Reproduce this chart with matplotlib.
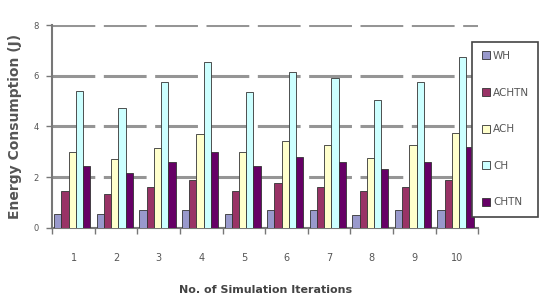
import matplotlib
matplotlib.use("Agg")
import matplotlib.pyplot as plt
import numpy as np

iterations = ["1", "2", "3", "4", "5", "6", "7", "8", "9", "10"]
series_names = ["WH", "ACHTN", "ACH", "CH", "CHTN"]
wh    = [0.55, 0.55, 0.68, 0.68, 0.55, 0.68, 0.68, 0.52, 0.68, 0.68]
achtn = [1.45, 1.35, 1.60, 1.88, 1.45, 1.75, 1.62, 1.45, 1.62, 1.88]
ach   = [3.00, 2.72, 3.15, 3.70, 3.00, 3.42, 3.25, 2.75, 3.25, 3.72]
ch    = [5.40, 4.72, 5.75, 6.55, 5.35, 6.15, 5.90, 5.05, 5.75, 6.75]
chtn  = [2.45, 2.15, 2.60, 3.00, 2.45, 2.78, 2.60, 2.32, 2.60, 3.18]
values = [wh, achtn, ach, ch, chtn]
colors = ["#9999cc", "#993366", "#ffffcc", "#ccffff", "#660066"]
yticks = [0, 2, 4, 6, 8]

fig = plt.figure(figsize=(5.39, 3.02), dpi=100)
ax = fig.add_axes([0.097, 0.246, 0.79, 0.671])

x = np.arange(len(iterations))
w = 0.17
for i, (name, vals, c) in enumerate(zip(series_names, values, colors)):
    ax.bar(x + (i - 2) * w - 0.03, vals, width=w, color=c, edgecolor="#333333",
           linewidth=0.6, label=name, zorder=3)

ax.set_xlim(-0.5, 9.5)
ax.set_ylim(0, 8)
ax.set_yticks(yticks)
ax.set_yticklabels([str(t) for t in yticks], fontsize=6, color="#555555")
ax.set_xticks(x)
ax.set_xticklabels(iterations, fontsize=7, color="#555555")
ax.tick_params(axis="x", length=0, pad=18)
ax.set_xticks(np.arange(-0.5, 10, 1), minor=True)
ax.tick_params(axis="x", which="minor", length=4, color="#777777", width=1)
ax.tick_params(axis="y", length=4, color="#777777", width=1, pad=6)

ax.yaxis.grid(True, color="#959595", linewidth=2.2, linestyle=(0, (14, 2.8)), zorder=0)
ax.set_axisbelow(True)
for s in ["top", "right"]:
    ax.spines[s].set_visible(False)
for s in ["left", "bottom"]:
    ax.spines[s].set_color("#777777")
    ax.spines[s].set_linewidth(1.5)

ax.set_ylabel("Energy Consumption (J)", fontsize=10, fontweight="bold", color="#555555", labelpad=8)
ax.set_xlabel("No. of Simulation Iterations", fontsize=8, fontweight="bold", color="#444444", labelpad=16)

leg = fig.legend(loc="upper left", bbox_to_anchor=(0.876, 0.862), fontsize=7.5,
                 frameon=True, fancybox=False, edgecolor="#444444", framealpha=1,
                 labelspacing=2.55, handlelength=0.8, handleheight=0.8,
                 handletextpad=0.3, borderpad=0.9, borderaxespad=0)
leg.get_frame().set_linewidth(1.2)
for t in leg.get_texts():
    t.set_color("#555555")

fig.savefig("out.png", dpi=100)
